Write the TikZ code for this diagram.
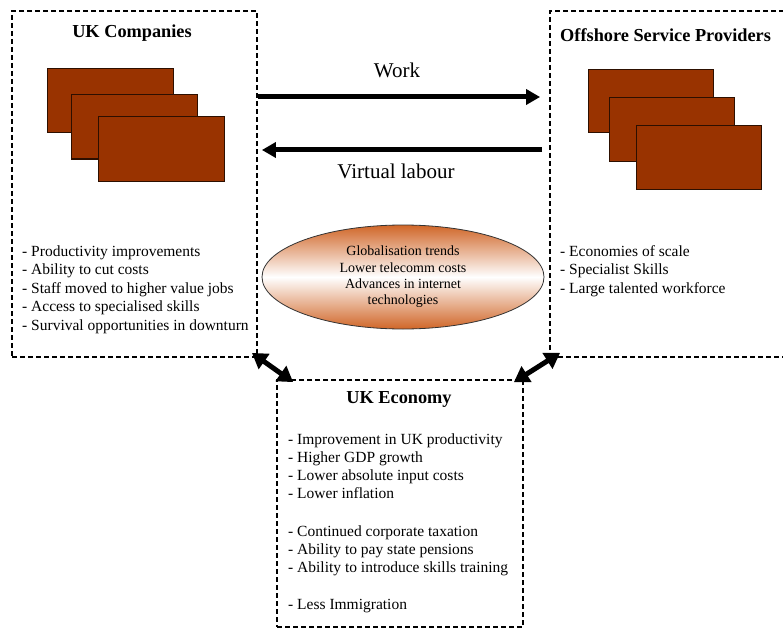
\documentclass[tikz,border=0pt]{standalone}
\usepackage{fontspec}
\setmainfont{Liberation Serif}
\usetikzlibrary{arrows.meta,shapes.geometric}

\definecolor{firmcolor}{RGB}{153, 51, 0}
\definecolor{firmedge}{RGB}{45, 15, 0}
\definecolor{trendcolor}{RGB}{208, 102, 40}

\begin{document}
\begin{tikzpicture}[x=1pt, y=1pt,
    panel/.style={draw=black, line width=1.8pt, dash pattern=on 5pt off 3pt, inner sep=0pt},
    firm/.style={fill=firmcolor, draw=firmedge, line width=1pt},
    flow/.style={line width=5pt, -{Triangle[length=14pt, width=15pt]}},
    link/.style={line width=5pt, {Triangle[length=15pt, width=18pt]}-{Triangle[length=15pt, width=18pt]}},
    title/.style={font=\fontsize{18.3}{21}\selectfont\bfseries, inner sep=0pt},
    flowtext/.style={font=\fontsize{21}{24}\selectfont, inner sep=0pt, anchor=base},
    item/.style={font=\fontsize{15.5}{18}\selectfont, inner sep=0pt, anchor=base west}]

    \useasboundingbox (0,0) rectangle (783,-631);
    \clip (0,0) rectangle (783,-631);
    \fill[white] (0,0) rectangle (783,-631);

    % ==========================================
    % --- UK companies (left panel) ---
    % ==========================================
    \node[panel, minimum width=245pt, minimum height=346pt] (ukco) at (134.5,-184) {};
    \node[title, anchor=base] (ukco-title) at (132,-38) {UK Companies};

    % Stack of company cards
    \foreach \x/\y in {47/69, 71/95, 98/117} {
        \draw[firm] (\x,-\y) rectangle ++(126,-64);
    }

    % Benefits list
    \foreach \t [count=\i] in {Productivity improvements, Ability to cut costs,
        Staff moved to higher value jobs, Access to specialised skills,
        Survival opportunities in downturn} {
        \node[item] (ukco-\i) at (22,{-256-18.5*(\i-1)}) {- \t};
    }

    % ==========================================
    % --- Offshore providers (right panel, runs off the edge) ---
    % ==========================================
    \node[panel, minimum width=260pt, minimum height=346pt] (offs) at (680,-184) {};
    \node[title, anchor=base west] (offs-title) at (560,-42) {Offshore Service Providers};

    \foreach \x/\y in {588/70, 609/98, 636/126} {
        \draw[firm] (\x,-\y) rectangle ++(125,-63);
    }

    \foreach \t [count=\i] in {Economies of scale, Specialist Skills,
        Large talented workforce} {
        \node[item] (offs-\i) at (560,{-256-18.5*(\i-1)}) {- \t};
    }

    % ==========================================
    % --- Flows between the two panels ---
    % ==========================================
    \coordinate (workrow) at (0,-97);
    \coordinate (labourrow) at (0,-150);
    \draw[flow, shorten >=9pt] (ukco.east |- workrow) -- (offs.west |- workrow);
    \draw[flow, shorten <=7pt, shorten >=4pt] (offs.west |- labourrow) -- (ukco.east |- labourrow);
    \node[flowtext] (work) at (397,-78) {Work};
    \node[flowtext] (labour) at (396,-178) {Virtual labour};

    % Drivers in the middle
    \node[ellipse, draw=black!80, line width=0.8pt, minimum width=282pt, minimum height=104pt,
        inner sep=0pt, top color=trendcolor, bottom color=trendcolor, middle color=white,
        align=center, font=\fontsize{14}{16.3}\selectfont] (trends) at (403,-277)
        {Globalisation trends\\Lower telecomm costs\\Advances in internet\\technologies};

    % ==========================================
    % --- UK economy (bottom panel) ---
    % ==========================================
    \node[panel, minimum width=246pt, minimum height=247pt] (ukeco) at (400,-503.5) {};
    \node[title, anchor=base] (ukeco-title) at (399,-403) {UK Economy};

    \foreach \t/\y [count=\i] in {Improvement in UK productivity/444, Higher GDP growth/462,
        Lower absolute input costs/480, Lower inflation/498,
        Continued corporate taxation/536, Ability to pay state pensions/554,
        Ability to introduce skills training/572, Less Immigration/609} {
        \node[item] (ukeco-\i) at (288,-\y) {- \t};
    }

    % Two-way links into the economy
    \draw[link] ([shift={(-6,5)}]ukco.south east) -- ([shift={(17,-3)}]ukeco.north west);
    \draw[link] ([shift={(-10,-3)}]ukeco.north east) -- ([shift={(11,5)}]offs.south west);

\end{tikzpicture}
\end{document}
